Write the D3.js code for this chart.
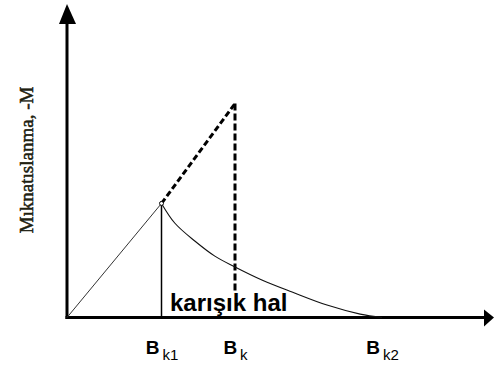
<!DOCTYPE html>
<html>
<head>
<meta charset="utf-8">
<script src="https://cdn.jsdelivr.net/npm/d3@7"></script>
<style>
  html, body { margin: 0; padding: 0; background: #fff; }
  svg { display: block; }
</style>
</head>
<body>
<svg id="chart" width="494" height="367"></svg>
<script>
// Critical field values (field axis, arbitrary units)
const fieldNames = ["k1", "k", "k2"];
const fieldValues = [22.5, 40, 75];

// Magnetisation (-M) at the lower critical field and the extrapolated value at Bk
const peakM = 36.8;
const topM = 69;

// Mixed-state magnetisation curve from Bk1 down to Bk2
const mixedB = [22.5, 25.7, 30.5, 35.2, 40, 46.4, 53.6, 61.9, 69.8, 75];
const mixedM = [36.8, 30.4, 24.6, 19.8, 16.3, 12.1, 8.2, 4.0, 1.1, 0];

const yLabel = "Mıknatıslanma, -M";
const regionLabel = "karışık hal";

const svg = d3.select("#chart");
const x0 = 67, y0 = 317.5;

const x = d3.scaleLinear().domain([0, 100]).range([x0, 487]);
const y = d3.scaleLinear().domain([0, 100]).range([y0, 7.5]);

const [bk1, bk, bk2] = fieldValues;

// Axes with arrowheads
svg.append("line")
  .attr("x1", x0).attr("y1", 20).attr("x2", x0).attr("y2", y0 + 1.5)
  .attr("stroke", "#000").attr("stroke-width", 3);
svg.append("path")
  .attr("d", `M${x0},4 L${x0 - 8},24 L${x0 + 9},24 Z`)
  .attr("fill", "#000");

svg.append("line")
  .attr("x1", x0 - 1.5).attr("y1", y0).attr("x2", 486).attr("y2", y0)
  .attr("stroke", "#000").attr("stroke-width", 3);
svg.append("path")
  .attr("d", `M494,${y0} L484,${y0 - 8} L484,${y0 + 9} Z`)
  .attr("fill", "#000");

// Tick labels B_k1, B_k, B_k2 from a bottom axis
const xAxis = d3.axisBottom(x)
  .tickValues(fieldValues)
  .tickSize(0)
  .tickPadding(0)
  .tickFormat("");
const gx = svg.append("g")
  .attr("transform", `translate(0,${y0})`)
  .call(xAxis);
gx.select(".domain").remove();
gx.selectAll(".tick text").remove();
gx.selectAll(".tick").each(function(d, i) {
  const t = d3.select(this).append("text")
    .attr("y", 36)
    .attr("text-anchor", "middle")
    .attr("fill", "#000")
    .attr("font-family", "Liberation Sans, Arial, sans-serif");
  t.append("tspan")
    .attr("font-weight", "bold")
    .attr("font-size", 19)
    .text("B");
  t.append("tspan")
    .attr("dx", 3)
    .attr("dy", 6)
    .attr("font-size", 15)
    .text(fieldNames[i]);
});

// Linear (Meissner) part: origin to Bk1
svg.append("line")
  .attr("x1", x(0)).attr("y1", y(0))
  .attr("x2", x(bk1)).attr("y2", y(peakM))
  .attr("stroke", "#333").attr("stroke-width", 1);

// Vertical at Bk1
svg.append("line")
  .attr("x1", x(bk1)).attr("y1", y(peakM))
  .attr("x2", x(bk1)).attr("y2", y(0))
  .attr("stroke", "#000").attr("stroke-width", 1.5);

// Dashed extrapolation up to Bk and down from it
svg.append("line")
  .attr("x1", x(bk1)).attr("y1", y(peakM))
  .attr("x2", x(bk)).attr("y2", y(topM))
  .attr("stroke", "#000").attr("stroke-width", 3)
  .attr("stroke-dasharray", "6,3");
svg.append("line")
  .attr("x1", x(bk)).attr("y1", y(topM))
  .attr("x2", x(bk)).attr("y2", y(8))
  .attr("stroke", "#000").attr("stroke-width", 3)
  .attr("stroke-dasharray", "7,3");

// Mixed-state curve
const curve = d3.line()
  .x(d => x(d[0]))
  .y(d => y(d[1]))
  .curve(d3.curveCatmullRom.alpha(0.5));
svg.append("path")
  .attr("d", curve(d3.zip(mixedB, mixedM)))
  .attr("fill", "none")
  .attr("stroke", "#111")
  .attr("stroke-width", 1.1);

// Small open marker at the peak
svg.append("circle")
  .attr("cx", x(bk1)).attr("cy", y(peakM)).attr("r", 2)
  .attr("fill", "#fff").attr("stroke", "#000").attr("stroke-width", 1);

// Region label
svg.append("text")
  .attr("x", 170).attr("y", 311)
  .attr("font-family", "Liberation Sans, Arial, sans-serif")
  .attr("font-weight", "bold")
  .attr("font-size", 24)
  .attr("fill", "#000")
  .text(regionLabel);

// Vertical axis title
svg.append("text")
  .attr("transform", "translate(33,160) rotate(-90)")
  .attr("text-anchor", "middle")
  .attr("font-family", "Liberation Serif, Times New Roman, serif")
  .attr("font-size", 19)
  .attr("fill", "#202010")
  .attr("stroke", "#202010")
  .attr("stroke-width", 0.5)
  .text(yLabel);
</script>
</body>
</html>
